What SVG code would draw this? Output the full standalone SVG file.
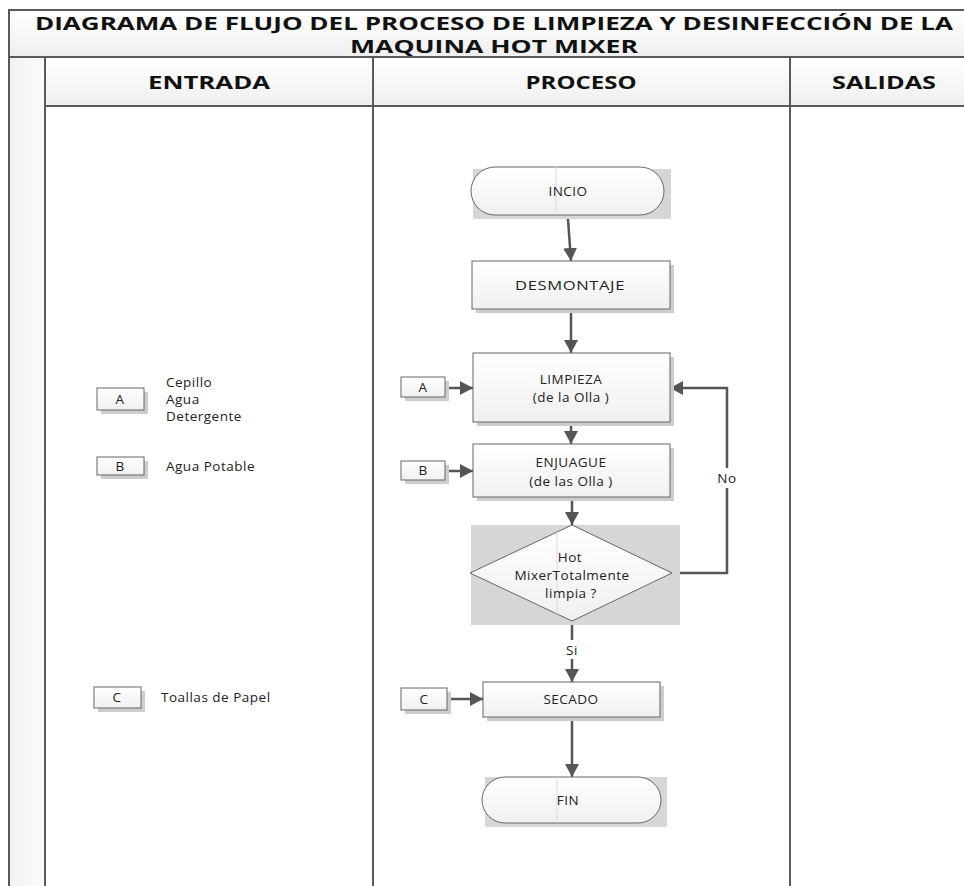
<svg xmlns="http://www.w3.org/2000/svg" width="964" height="886" viewBox="0 0 964 886">
  <defs>
    <linearGradient id="gHead" x1="0" y1="0" x2="0" y2="1">
      <stop offset="0" stop-color="#ffffff"/>
      <stop offset="1" stop-color="#efefef"/>
    </linearGradient>
    <linearGradient id="gStrip" x1="0" y1="0" x2="1" y2="0">
      <stop offset="0" stop-color="#f2f2f2"/>
      <stop offset="1" stop-color="#fbfbfb"/>
    </linearGradient>
    <linearGradient id="gNode" x1="0" y1="0" x2="0" y2="1">
      <stop offset="0" stop-color="#ffffff"/>
      <stop offset="1" stop-color="#f0f0f0"/>
    </linearGradient>
    <marker id="arrow" markerUnits="userSpaceOnUse" markerWidth="14" markerHeight="14" refX="13" refY="7" orient="auto">
      <path d="M0,0 L13,7 L0,14 z" fill="#555555"/>
    </marker>
    <style>
      .frame { fill: none; stroke: #5a5a5a; stroke-width: 2; }
      .title { font-family: "Open Sans", "Liberation Sans", sans-serif; font-weight: bold; font-size: 18px; fill: #111; text-anchor: middle; }
      .head { font-family: "Open Sans", "Liberation Sans", sans-serif; font-weight: bold; font-size: 17px; fill: #111; text-anchor: middle; }
      .node { fill: url(#gNode); stroke: #666; stroke-width: 1; }
      .shadow { fill: #cdcdcd; }
      .bbox { fill: #d6d6d6; }
      .seam { stroke: #dcdcdc; stroke-width: 1; }
      .lbl { font-family: "Open Sans", "Liberation Sans", sans-serif; font-size: 13.5px; letter-spacing: 0.5px; fill: #222; text-anchor: middle; }
      .side { font-family: "Open Sans", "Liberation Sans", sans-serif; font-size: 13.5px; letter-spacing: 0.5px; fill: #222; }
      .conn { fill: none; stroke: #555555; stroke-width: 2.5; }
    </style>
  </defs>

  <rect width="964" height="886" fill="#ffffff"/>

  <!-- swimlane frame -->
  <g id="frame">
    <rect x="9" y="10" width="980" height="47" fill="url(#gHead)"/>
    <rect x="45" y="57" width="944" height="49" fill="url(#gHead)"/>
    <rect x="9" y="57" width="36" height="840" fill="url(#gStrip)"/>
    <path class="frame" d="M9,900 V10 H990"/>
    <path class="frame" d="M9,57 H990"/>
    <path class="frame" d="M45,106 H990"/>
    <line class="frame" x1="45" y1="57" x2="45" y2="900"/>
    <line class="frame" x1="373" y1="57" x2="373" y2="900"/>
    <line class="frame" x1="790" y1="57" x2="790" y2="900"/>
    <text class="title" x="494" y="30" textLength="918" lengthAdjust="spacingAndGlyphs">DIAGRAMA DE FLUJO DEL PROCESO DE LIMPIEZA Y DESINFECCIÓN DE LA</text>
    <text class="title" x="494" y="53" textLength="288" lengthAdjust="spacingAndGlyphs">MAQUINA HOT MIXER</text>
    <text class="head" x="209" y="89" textLength="122" lengthAdjust="spacingAndGlyphs">ENTRADA</text>
    <text class="head" x="581" y="89" textLength="111" lengthAdjust="spacingAndGlyphs">PROCESO</text>
    <text class="head" x="884" y="89" textLength="104" lengthAdjust="spacingAndGlyphs">SALIDAS</text>
  </g>

  <!-- connectors -->
  <g id="connectors">
    <line class="conn" x1="568" y1="219" x2="571" y2="261" marker-end="url(#arrow)"/>
    <line class="conn" x1="571" y1="309" x2="571" y2="353" marker-end="url(#arrow)"/>
    <line class="conn" x1="571" y1="422" x2="571" y2="444" marker-end="url(#arrow)"/>
    <line class="conn" x1="572" y1="497" x2="572" y2="525" marker-end="url(#arrow)"/>
    <line class="conn" x1="572" y1="621" x2="572" y2="682" marker-end="url(#arrow)"/>
    <line class="conn" x1="572" y1="717" x2="572" y2="777" marker-end="url(#arrow)"/>
    <line class="conn" x1="445" y1="388" x2="473" y2="388" marker-end="url(#arrow)"/>
    <line class="conn" x1="445" y1="471" x2="473" y2="471" marker-end="url(#arrow)"/>
    <line class="conn" x1="447" y1="699" x2="483" y2="699" marker-end="url(#arrow)"/>
    <path class="conn" d="M672,573 H727 V388 H670" marker-end="url(#arrow)"/>
    <rect x="713" y="468" width="29" height="20" fill="#ffffff"/>
    <text class="lbl" x="727" y="483">No</text>
    <rect x="563" y="640" width="18" height="19" fill="#ffffff"/>
    <text class="lbl" x="572" y="655">Si</text>
  </g>

  <!-- process column -->
  <g id="inicio">
    <rect class="bbox" x="473" y="169" width="198" height="50"/>
    <rect class="node" x="471" y="167" width="193" height="48" rx="24" ry="24"/>
    <line class="seam" x1="556" y1="167" x2="556" y2="215"/>
    <text class="lbl" x="568" y="196">INCIO</text>
  </g>

  <g id="desmontaje">
    <rect class="shadow" x="476" y="265" width="198" height="48"/>
    <rect class="node" x="472" y="261" width="198" height="48"/>
    <text class="lbl" x="570" y="290" textLength="110" lengthAdjust="spacingAndGlyphs">DESMONTAJE</text>
  </g>

  <g id="limpieza">
    <rect class="shadow" x="477" y="357" width="197" height="69"/>
    <rect class="node" x="473" y="353" width="197" height="69"/>
    <text class="lbl" x="571" y="384">LIMPIEZA</text>
    <text class="lbl" x="571" y="402">(de la Olla )</text>
  </g>

  <g id="enjuague">
    <rect class="shadow" x="477" y="448" width="197" height="53"/>
    <rect class="node" x="473" y="444" width="197" height="53"/>
    <text class="lbl" x="571" y="467">ENJUAGUE</text>
    <text class="lbl" x="571" y="486">(de las Olla )</text>
  </g>

  <g id="decision">
    <rect class="bbox" x="471" y="525" width="209" height="100"/>
    <polygon class="node" points="572,525 672,573 572,621 470,573"/>
    <line class="seam" x1="557" y1="532" x2="557" y2="614"/>
    <text class="lbl" x="570" y="562">Hot</text>
    <text class="lbl" x="572" y="580">MixerTotalmente</text>
    <text class="lbl" x="571" y="598">limpia ?</text>
  </g>

  <g id="secado">
    <rect class="shadow" x="487" y="686" width="177" height="35"/>
    <rect class="node" x="483" y="682" width="177" height="35"/>
    <text class="lbl" x="571" y="704">SECADO</text>
  </g>

  <g id="fin">
    <rect class="bbox" x="485" y="777" width="182" height="50"/>
    <rect class="node" x="482" y="777" width="179" height="46" rx="23" ry="23"/>
    <line class="seam" x1="557" y1="777" x2="557" y2="823"/>
    <text class="lbl" x="568" y="805">FIN</text>
  </g>

  <!-- off-page references in the process lane -->
  <g id="ref-a-proc">
    <rect class="shadow" x="405" y="381" width="44" height="20"/>
    <rect class="node" x="401" y="377" width="44" height="20"/>
    <text class="lbl" x="423" y="392">A</text>
  </g>
  <g id="ref-b-proc">
    <rect class="shadow" x="405" y="465" width="44" height="19"/>
    <rect class="node" x="401" y="461" width="44" height="19"/>
    <text class="lbl" x="423" y="475">B</text>
  </g>
  <g id="ref-c-proc">
    <rect class="shadow" x="405" y="692" width="46" height="22"/>
    <rect class="node" x="401" y="688" width="46" height="22"/>
    <text class="lbl" x="424" y="704">C</text>
  </g>

  <!-- input lane -->
  <g id="ref-a-in">
    <rect class="shadow" x="101" y="392" width="47" height="22"/>
    <rect class="node" x="97" y="388" width="47" height="22"/>
    <text class="lbl" x="120" y="404">A</text>
    <text class="side" x="166" y="387">Cepillo</text>
    <text class="side" x="166" y="404">Agua</text>
    <text class="side" x="166" y="421">Detergente</text>
  </g>
  <g id="ref-b-in">
    <rect class="shadow" x="101" y="461" width="47" height="18"/>
    <rect class="node" x="97" y="457" width="47" height="18"/>
    <text class="lbl" x="120" y="471">B</text>
    <text class="side" x="166" y="471">Agua Potable</text>
  </g>
  <g id="ref-c-in">
    <rect class="shadow" x="98" y="691" width="47" height="21"/>
    <rect class="node" x="94" y="687" width="47" height="21"/>
    <text class="lbl" x="117" y="702">C</text>
    <text class="side" x="161" y="702">Toallas de Papel</text>
  </g>
</svg>
